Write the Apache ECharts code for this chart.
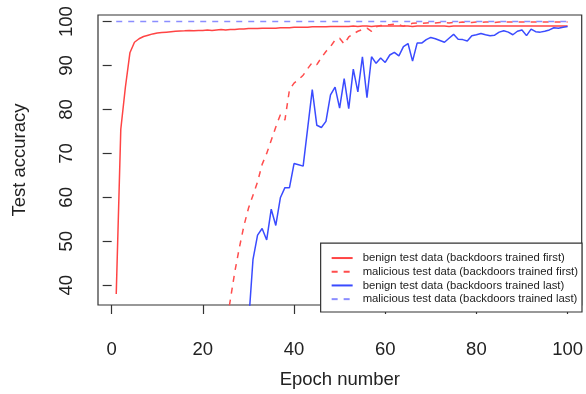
<!DOCTYPE html>
<html>
<head>
<meta charset="utf-8">
<script src="https://cdn.jsdelivr.net/npm/echarts@6/dist/echarts.min.js"></script>
<style>
html,body{margin:0;padding:0;background:#fff;}
#chart{width:586px;height:394px;}
</style>
</head>
<body>
<div id="chart"></div>
<script>
const epochs = [1,2,3,4,5,6,7,8,9,10,11,12,13,14,15,16,17,18,19,20,21,22,23,24,25,26,27,28,29,30,31,32,33,34,35,36,37,38,39,40,41,42,43,44,45,46,47,48,49,50,51,52,53,54,55,56,57,58,59,60,61,62,63,64,65,66,67,68,69,70,71,72,73,74,75,76,77,78,79,80,81,82,83,84,85,86,87,88,89,90,91,92,93,94,95,96,97,98,99,100];

const seriesNames = [
  'benign test data (backdoors trained first)',
  'malicious test data (backdoors trained first)',
  'benign test data (backdoors trained last)',
  'malicious test data (backdoors trained last)'
];

const benignFirst = [38,75.5,85,92.9,95.3,96.1,96.6,96.9,97.2,97.4,
  97.5,97.6,97.7,97.8,97.85,97.9,98.0,97.9,98.0,98.0,
  98.1,98.0,98.1,98.2,98.1,98.2,98.2,98.3,98.3,98.4,
  98.4,98.4,98.5,98.5,98.5,98.5,98.6,98.6,98.6,98.7,
  98.7,98.7,98.7,98.8,98.8,98.8,98.8,98.9,98.9,98.9,
  98.9,98.9,99.0,98.9,99.0,99.0,98.9,99.0,99.0,99.0,
  99.0,99.0,99.0,99.0,99.0,98.9,99.0,99.0,99.0,99.0,
  99.0,99.0,99.0,98.9,99.0,99.0,99.0,99.0,99.0,99.0,
  99.0,99.0,99.0,99.0,99.0,99.0,99.0,99.0,99.0,99.0,
  99.0,99.0,99.0,99.0,99.0,99.0,99.0,99.0,99.0,99.0];

const maliciousFirst = [null,null,null,null,null,null,null,null,null,null,
  null,null,null,null,null,null,null,null,null,null,
  null,null,null,null,30,36.5,43,48.5,53.5,57.5,
  60.5,63.5,67.5,70,73,76,78.8,77.6,84.5,86,
  86.8,87.8,89.3,90.7,90.2,91.8,93.2,94.3,95.8,96.2,
  94.9,96.5,97.2,97.8,98.2,98.5,97.8,98.8,99.1,99.2,
  99.3,99.4,99.3,98.9,99.4,99.6,99.7,99.6,99.7,99.8,
  99.7,99.8,99.8,99.7,99.8,99.8,99.9,99.8,99.8,99.9,
  99.8,99.9,99.9,99.8,99.9,99.9,99.9,99.9,99.9,99.9,
  99.9,99.9,99.9,99.9,99.9,99.9,99.9,99.9,99.9,99.9];

const benignLast = [null,null,null,null,null,null,null,null,null,null,
  null,null,null,null,null,null,null,null,null,null,
  null,null,null,null,null,null,null,null,null,31,
  45.9,51.4,52.9,50.3,57.3,53.6,59.9,62.2,62.2,67.7,
  67.4,67.1,75.8,84.5,76.4,75.9,77.3,83.3,85.1,80.3,
  87,80.2,89.2,84,92,82.7,92,90.5,91.7,90.7,
  92.4,93,92.2,94.3,95,91,95.1,95.1,95.9,96.4,
  96.1,95.7,95.3,96.2,97.1,96,95.9,95.6,96.8,97,
  97.3,97,96.8,96.9,97.6,97.9,97.6,97,97.8,98.1,
  96.8,98.3,97.7,97.6,97.8,98.1,98.6,98.5,98.7,98.9];

const maliciousLast = [100,100,100,100,100,100,100,100,100,100,
  100,100,100,100,100,100,100,100,100,100,
  100,100,100,100,100,100,100,100,100,100,
  100,100,100,100,100,100,100,100,100,100,
  100,100,100,100,100,100,100,100,100,100,
  100,100,100,100,100,100,100,100,100,100,
  100,100,100,100,100,100,100,100,100,100,
  100,100,100,100,100,100,100,100,100,100,
  100,100,100,100,100,100,100,100,100,100,
  100,100,100,100,100,100,100,100,100,100];

const xTicks = [0,20,40,60,80,100];
const yTicks = [40,50,60,70,80,90,100];

function pairs(vals){ return epochs.map((e,i)=>[e, vals[i]]); }

const FONT = 'Liberation Sans, Arial, Helvetica, sans-serif';
const AXC = '#333';

const chart = echarts.init(document.getElementById('chart'), null, {renderer:'canvas'});
chart.setOption({
  animation: false,
  backgroundColor: '#fff',
  grid: {left: 98, right: 4, top: 15, bottom: 82, show: true, borderColor: AXC, borderWidth: 1.2, backgroundColor: 'transparent'},
  xAxis: {
    type: 'value', min: -3.0, max: 103.1,
    name: 'Epoch number', nameLocation: 'middle', nameGap: 65,
    nameTextStyle: {fontFamily: FONT, fontSize: 18.5, color: '#222'},
    axisLine: {show: false},
    axisTick: {show: true, customValues: xTicks, length: 9, lineStyle: {color: AXC, width: 1.2}},
    axisLabel: {customValues: xTicks, fontFamily: FONT, fontSize: 18.5, color: '#222', margin: 35},
    splitLine: {show: false}
  },
  yAxis: {
    type: 'value', min: 35.5, max: 101.5,
    name: 'Test accuracy', nameLocation: 'middle', nameGap: 69, nameRotate: 90,
    nameTextStyle: {fontFamily: FONT, fontSize: 18.5, color: '#222'},
    axisLine: {show: false},
    axisTick: {show: true, customValues: yTicks, length: 9, lineStyle: {color: AXC, width: 1.2}},
    axisLabel: {customValues: yTicks, rotate: 90, fontFamily: FONT, fontSize: 18.5, color: '#222', margin: 22},
    splitLine: {show: false}
  },
  legend: {
    show: true, orient: 'vertical', right: 4, bottom: 82,
    padding: [8, 4, 6, 10], itemGap: 0, itemWidth: 21, itemHeight: 2,
    borderColor: AXC, borderWidth: 1.2, backgroundColor: '#fff',
    itemStyle: {opacity: 0},
    lineStyle: {width: 2},
    textStyle: {fontFamily: FONT, fontSize: 11.3, color: '#222', lineHeight: 13.7, padding: [0,0,0,5]},
    data: seriesNames
  },
  series: [
    {name: seriesNames[0], type: 'line', data: pairs(benignFirst), symbol: 'none', color: '#ff4444', lineStyle: {width: 1.5, color: '#ff4444'}, z: 2},
    {name: seriesNames[1], type: 'line', data: pairs(maliciousFirst), symbol: 'none', color: '#ff4d4d', lineStyle: {width: 1.5, color: '#ff4d4d', type: [6,6]}, z: 3},
    {name: seriesNames[2], type: 'line', data: pairs(benignLast), symbol: 'none', color: '#3a4bff', lineStyle: {width: 1.5, color: '#3a4bff'}, z: 4},
    {name: seriesNames[3], type: 'line', data: pairs(maliciousLast), symbol: 'none', color: '#8a8dff', lineStyle: {width: 1.5, color: '#8a8dff', type: [6,6]}, z: 5}
  ]
});
</script>
</body>
</html>
